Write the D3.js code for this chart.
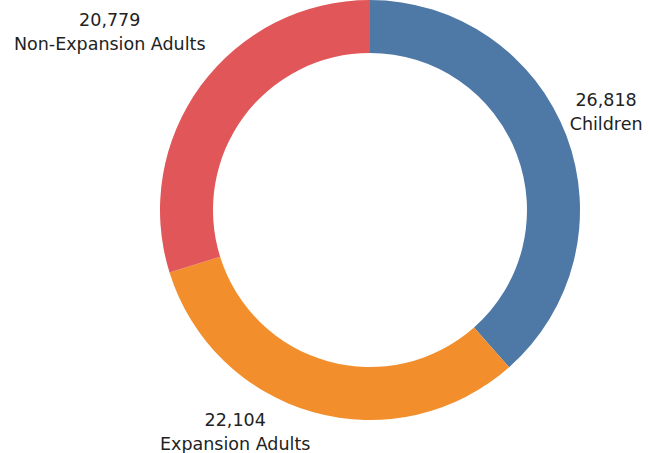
<!DOCTYPE html>
<html>
<head>
<meta charset="utf-8">
<script src="https://cdn.jsdelivr.net/npm/d3@7"></script>
<style>
  body { margin: 0; background: #fff; }
  text { font-family: "DejaVu Sans", sans-serif; fill: #222; }
</style>
</head>
<body>
<div id="chart"></div>
<script>
// data
var categories = ["Children", "Expansion Adults", "Non-Expansion Adults"];
var values = [26818, 22104, 20779];
var colors = ["#4e79a7", "#f28e2b", "#e15759"];

var width = 650, height = 453;
var cx = 370, cy = 210;
var outerR = 210, innerR = 157;

// label nudges (layout only) relative to the arc point at mid-angle
var labelNudge = [[21, -23], [-73, -6], [-75, -48]];

var svg = d3.select("#chart").append("svg")
    .attr("width", width)
    .attr("height", height);

var g = svg.append("g").attr("transform", "translate(" + cx + "," + cy + ")");

var pie = d3.pie().sort(null).value(function (d) { return d; });
var arcs = pie(values);

var arc = d3.arc().innerRadius(innerR).outerRadius(outerR);

g.selectAll("path")
    .data(arcs)
    .enter().append("path")
    .attr("d", arc)
    .attr("fill", function (d, i) { return colors[i]; });

var fmt = d3.format(",");
var labelR = outerR + 20;

var labels = g.selectAll("text.lbl")
    .data(arcs)
    .enter().append("text")
    .attr("class", "lbl")
    .attr("text-anchor", "middle")
    .style("font-size", "17.5px")
    .attr("transform", function (d, i) {
        var a = (d.startAngle + d.endAngle) / 2;
        var x = Math.sin(a) * labelR + labelNudge[i][0];
        var y = -Math.cos(a) * labelR + labelNudge[i][1];
        return "translate(" + x + "," + y + ")";
    });

labels.append("tspan")
    .attr("x", 0).attr("y", 0)
    .text(function (d) { return fmt(d.data); });
labels.append("tspan")
    .attr("x", 0).attr("y", 24)
    .text(function (d, i) { return categories[i]; });
</script>
</body>
</html>
